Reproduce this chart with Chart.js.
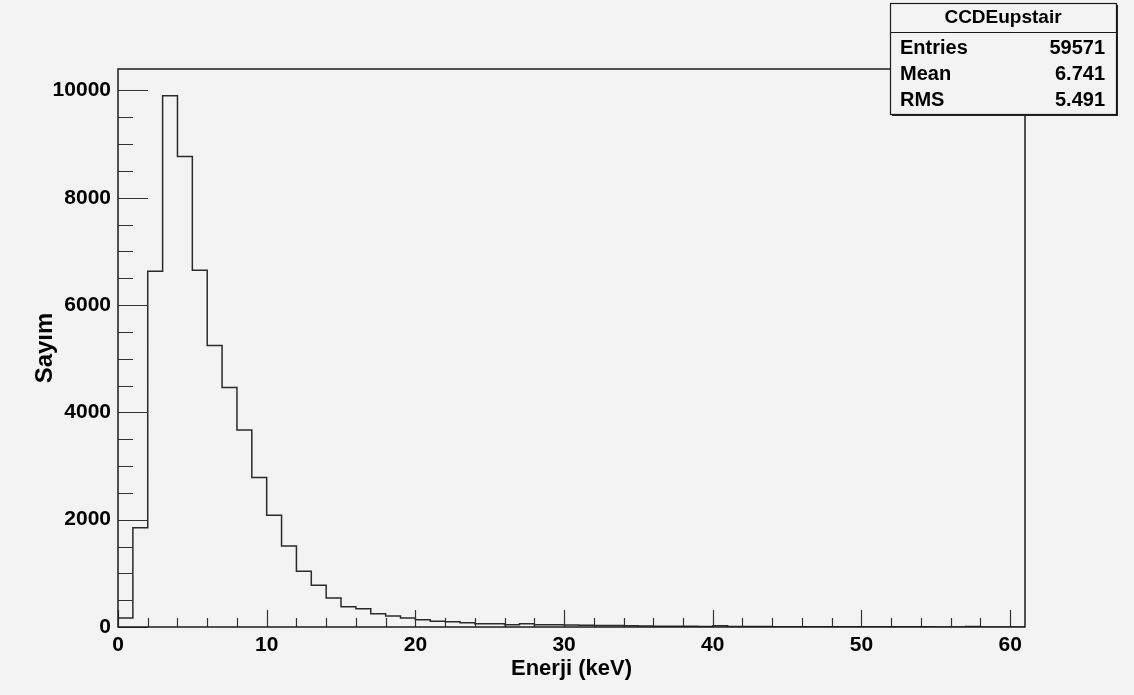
<!DOCTYPE html>
<html>
<head>
<meta charset="utf-8">
<title>CCDEupstair</title>
<script src="https://cdn.jsdelivr.net/npm/chart.js@4.4.1/dist/chart.umd.min.js"></script>
<style>
  html, body { margin: 0; padding: 0; background: #f3f3f3; }
  canvas { display: block; }
</style>
</head>
<body>
<canvas id="histo" width="1134" height="695"></canvas>
<script>
const histName = "CCDEupstair";
const xTitle = "Enerji (keV)";
const yTitle = "Sayım";

// 1 keV bins starting at 0
const binWidth = 1;
const counts = [
  170, 1850, 6630, 9900, 8770, 6650, 5245, 4465, 3670, 2785,
  2085, 1512, 1040, 777, 541, 379, 342, 249, 205, 168,
  137, 106, 100, 81, 62, 62, 44, 62, 44, 44,
  35, 32, 30, 28, 25, 18, 16, 14, 12, 10,
  25, 9, 8, 7, 6, 6, 5, 5, 4, 4,
  4, 3, 3, 3, 3, 2, 2, 8, 2, 1,
  1,
];

const xTicks = [0, 10, 20, 30, 40, 50, 60];
const yTicks = [0, 2000, 4000, 6000, 8000, 10000];
const xMinorStep = 2;
const yMinorStep = 500;

const statLabels = ["Entries", "Mean", "RMS"];
const statValues = ["59571", "6.741", "5.491"];

const FONT = "'Liberation Sans', Arial, Helvetica, sans-serif";
const INK = "#1c1c1c";
const BG = "#f3f3f3";

// outline of the histogram: flat top over every bin, vertical edges between bins
const outline = [{ x: 0, y: 0 }];
counts.forEach((c, i) => {
  outline.push({ x: i * binWidth, y: c });
  outline.push({ x: (i + 1) * binWidth, y: c });
});

const xMax = counts.length * binWidth;
const yMax = 10400;

const frameAndStats = {
  id: "frameAndStats",
  beforeDraw(chart) {
    const { ctx, width, height } = chart;
    ctx.save();
    ctx.fillStyle = BG;
    ctx.fillRect(0, 0, width, height);
    ctx.restore();
  },
  afterDraw(chart) {
    const { ctx, chartArea: a, scales } = chart;
    const x = scales.x;
    const y = scales.y;
    ctx.save();

    // axis ticks on the inside of the frame
    ctx.beginPath();
    for (let v = 0; v <= yMax; v += yMinorStep) {
      const py = Math.round(y.getPixelForValue(v)) + 0.5;
      const len = yTicks.includes(v) ? 30 : 15;
      ctx.moveTo(a.left, py);
      ctx.lineTo(a.left + len, py);
    }
    for (let v = 0; v <= xMax; v += xMinorStep) {
      const px = Math.round(x.getPixelForValue(v)) + 0.5;
      const len = xTicks.includes(v) ? 17 : 9;
      ctx.moveTo(px, a.bottom);
      ctx.lineTo(px, a.bottom - len);
    }
    ctx.strokeStyle = "#333";
    ctx.lineWidth = 1.2;
    ctx.stroke();

    ctx.strokeStyle = INK;
    ctx.lineWidth = 1.5;
    ctx.strokeRect(a.left, a.top, a.right - a.left, a.bottom - a.top);

    // statistics box
    const bx = 890, by = 3, bw = 226, bh = 111;
    ctx.fillStyle = "#222";
    ctx.fillRect(bx + 2, by + 2, bw, bh);
    ctx.fillStyle = BG;
    ctx.fillRect(bx, by, bw, bh);
    ctx.lineWidth = 1.2;
    ctx.strokeStyle = INK;
    ctx.strokeRect(bx + 0.5, by + 0.5, bw, bh);
    ctx.beginPath();
    ctx.moveTo(bx, by + 29.5);
    ctx.lineTo(bx + bw, by + 29.5);
    ctx.stroke();

    ctx.fillStyle = "#000";
    ctx.textBaseline = "middle";
    ctx.textAlign = "center";
    ctx.font = "bold 19px " + FONT;
    ctx.fillText(histName, bx + bw / 2, by + 15);
    ctx.font = "bold 20px " + FONT;
    statLabels.forEach((lab, i) => {
      const ty = by + 45 + i * 26;
      ctx.textAlign = "left";
      ctx.fillText(lab, bx + 10, ty);
      ctx.textAlign = "right";
      ctx.fillText(statValues[i], bx + bw - 11, ty);
    });

    ctx.restore();
  },
};

new Chart(document.getElementById("histo"), {
  type: "line",
  data: {
    datasets: [
      {
        label: histName,
        data: outline,
        borderColor: "#2a2a2a",
        borderWidth: 1.5,
        pointRadius: 0,
        tension: 0,
        fill: false,
      },
    ],
  },
  options: {
    responsive: false,
    animation: false,
    devicePixelRatio: 1,
    layout: { padding: { top: 69, right: 109, left: 0, bottom: 0 } },
    plugins: {
      legend: { display: false },
      tooltip: { enabled: false },
    },
    scales: {
      x: {
        type: "linear",
        min: 0,
        max: xMax,
        grid: { display: false, drawTicks: false },
        border: { display: false },
        afterBuildTicks: (axis) => {
          axis.ticks = xTicks.map((v) => ({ value: v }));
        },
        afterFit: (axis) => {
          axis.height = 68;
        },
        ticks: {
          color: "#000",
          padding: 6,
          maxRotation: 0,
          autoSkip: false,
          callback: (v) => String(v),
          font: { family: FONT, size: 21, weight: "bold" },
        },
        title: {
          display: true,
          text: xTitle,
          color: "#000",
          font: { family: FONT, size: 22, weight: "bold" },
          padding: { top: 0, bottom: 13 },
        },
      },
      y: {
        type: "linear",
        min: 0,
        max: yMax,
        grid: { display: false, drawTicks: false },
        border: { display: false },
        afterBuildTicks: (axis) => {
          axis.ticks = yTicks.map((v) => ({ value: v }));
        },
        afterFit: (axis) => {
          axis.width = 118;
        },
        ticks: {
          color: "#000",
          padding: 7,
          callback: (v) => String(v),
          font: { family: FONT, size: 21, weight: "bold" },
        },
        title: {
          display: true,
          text: yTitle,
          color: "#000",
          font: { family: FONT, size: 24, weight: "bold" },
          padding: { top: 31, bottom: 0 },
        },
      },
    },
  },
  plugins: [frameAndStats],
});
</script>
</body>
</html>
